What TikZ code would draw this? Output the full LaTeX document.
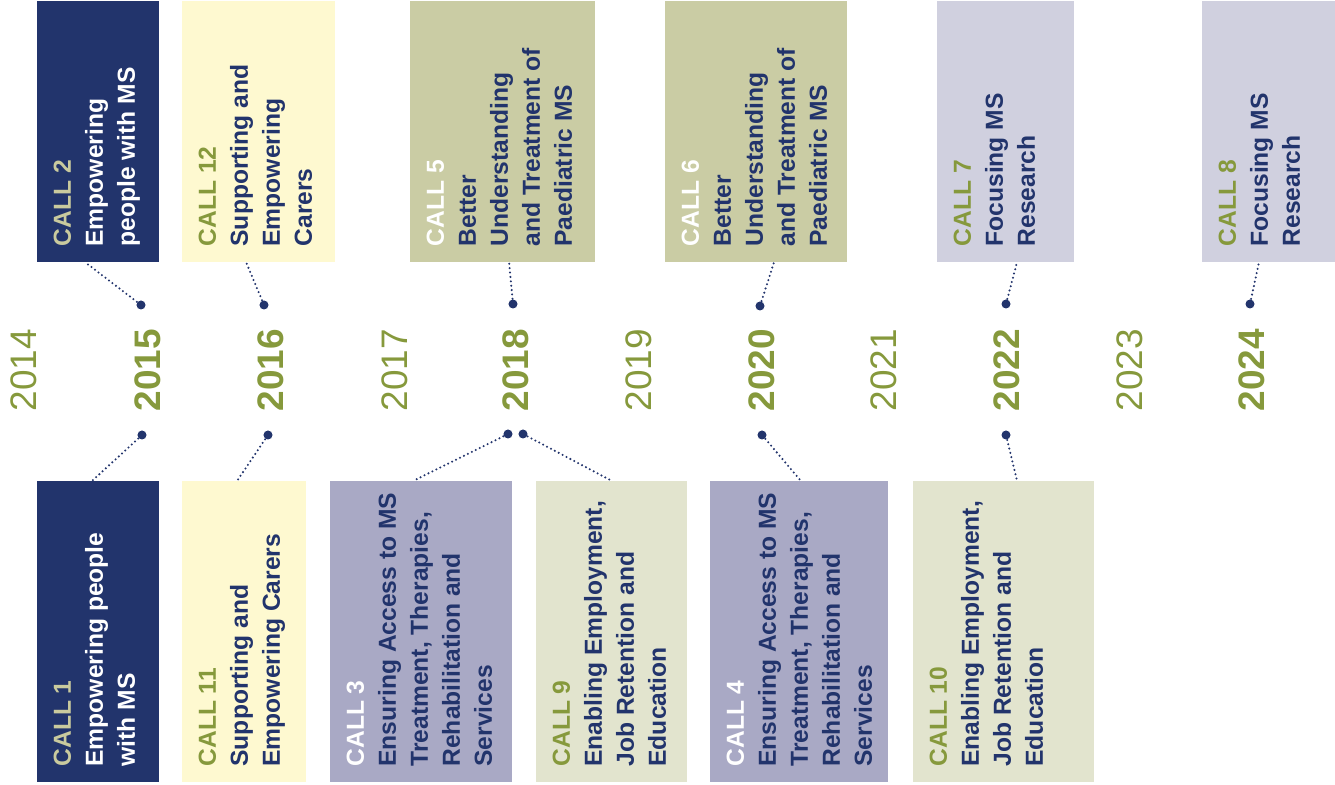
\documentclass[tikz,border=0pt]{standalone}
\usepackage{xcolor}
\usepackage{fontspec}
\setmainfont{Liberation Sans}
\usepackage{tikz}

\definecolor{msnavy}{HTML}{22346C}
\definecolor{mskhaki}{HTML}{C9CA9E}
\definecolor{msgreen}{HTML}{86993C}
\definecolor{msyellow}{HTML}{FEF9D0}
\definecolor{msolive}{HTML}{CACCA4}
\definecolor{mslilac}{HTML}{D0D0DF}
\definecolor{msslate}{HTML}{A9A9C5}
\definecolor{mspale}{HTML}{E2E4CE}

\begin{document}
\begin{tikzpicture}[
  x=0.01cm, y=-0.01cm,
  callbox/.style={rectangle, inner sep=0, outer sep=0, anchor=north west},
  calltext/.style={rotate=90, anchor=north west, inner sep=0, align=left,
    text=msnavy, font=\fontsize{7}{9.1}\selectfont\bfseries},
  yearbold/.style={rotate=90, anchor=base west, inner sep=0, text=msgreen,
    font=\fontsize{10.5}{12}\selectfont\bfseries},
  yearlight/.style={rotate=90, anchor=base west, inner sep=0, text=msgreen,
    font=\fontsize{10.5}{12}\selectfont},
  yeardot/.style={circle, fill=msnavy, inner sep=0, minimum size=0.09cm},
  leader/.style={msnavy, line width=0.65pt, line cap=round,
    dash pattern=on 0pt off 1.25pt}
]
  \useasboundingbox (0,0) rectangle (1335,785);

  % calls above the years
  \node[callbox, fill=msnavy,  minimum width=1.22cm, minimum height=2.61cm] (c2)  at (37,1) {};
  \node[callbox, fill=msyellow, minimum width=1.53cm, minimum height=2.61cm] (c12) at (182,1) {};
  \node[callbox, fill=msolive, minimum width=1.85cm, minimum height=2.61cm] (c5)  at (410,1) {};
  \node[callbox, fill=msolive, minimum width=1.82cm, minimum height=2.61cm] (c6)  at (665,1) {};
  \node[callbox, fill=mslilac, minimum width=1.37cm, minimum height=2.61cm] (c7)  at (937,1) {};
  \node[callbox, fill=mslilac, minimum width=1.33cm, minimum height=2.61cm] (c8)  at (1202,1) {};

  % calls below the years
  \node[callbox, fill=msnavy,  minimum width=1.22cm, minimum height=3.01cm] (c1)  at (37,481) {};
  \node[callbox, fill=msyellow, minimum width=1.24cm, minimum height=3.01cm] (c11) at (182,481) {};
  \node[callbox, fill=msslate, minimum width=1.82cm, minimum height=3.01cm] (c3)  at (330,481) {};
  \node[callbox, fill=mspale,  minimum width=1.51cm, minimum height=3.01cm] (c9)  at (536,481) {};
  \node[callbox, fill=msslate, minimum width=1.78cm, minimum height=3.01cm] (c4)  at (710,481) {};
  \node[callbox, fill=mspale,  minimum width=1.81cm, minimum height=3.01cm] (c10) at (913,481) {};

  % texts
  \node[calltext, text=white] (t2) at ([xshift=0.16cm, yshift=0.15cm]c2.south west)
    {\textcolor{mskhaki}{CALL 2}\\Empowering\\people with MS};
  \node[calltext] (t12) at ([xshift=0.16cm, yshift=0.15cm]c12.south west)
    {\textcolor{msgreen}{CALL 12}\\Supporting and\\Empowering\\Carers};
  \node[calltext] (t5) at ([xshift=0.16cm, yshift=0.15cm]c5.south west)
    {\textcolor{white}{CALL 5}\\Better\\Understanding\\and Treatment of\\Paediatric MS};
  \node[calltext] (t6) at ([xshift=0.16cm, yshift=0.15cm]c6.south west)
    {\textcolor{white}{CALL 6}\\Better\\Understanding\\and Treatment of\\Paediatric MS};
  \node[calltext] (t7) at ([xshift=0.16cm, yshift=0.15cm]c7.south west)
    {\textcolor{msgreen}{CALL 7}\\Focusing MS\\Research};
  \node[calltext] (t8) at ([xshift=0.16cm, yshift=0.15cm]c8.south west)
    {\textcolor{msgreen}{CALL 8}\\Focusing MS\\Research};

  \node[calltext, text=white] (t1) at ([xshift=0.16cm, yshift=0.15cm]c1.south west)
    {\textcolor{mskhaki}{CALL 1}\\Empowering people\\with MS};
  \node[calltext] (t11) at ([xshift=0.16cm, yshift=0.15cm]c11.south west)
    {\textcolor{msgreen}{CALL 11}\\Supporting and\\Empowering Carers};
  \node[calltext] (t3) at ([xshift=0.16cm, yshift=0.15cm]c3.south west)
    {\textcolor{white}{CALL 3}\\Ensuring Access to MS\\Treatment, Therapies,\\Rehabilitation and\\Services};
  \node[calltext] (t9) at ([xshift=0.16cm, yshift=0.15cm]c9.south west)
    {\textcolor{msgreen}{CALL 9}\\Enabling Employment,\\Job Retention and\\Education};
  \node[calltext] (t4) at ([xshift=0.16cm, yshift=0.15cm]c4.south west)
    {\textcolor{white}{CALL 4}\\Ensuring Access to MS\\Treatment, Therapies,\\Rehabilitation and\\Services};
  \node[calltext] (t10) at ([xshift=0.16cm, yshift=0.15cm]c10.south west)
    {\textcolor{msgreen}{CALL 10}\\Enabling Employment,\\Job Retention and\\Education};

  % years
  \node[yearlight] (y14) at (37,412) {2014};
  \node[yearbold]  (y15) at (160,412) {2015};
  \node[yearbold]  (y16) at (283,412) {2016};
  \node[yearlight] (y17) at (407,412) {2017};
  \node[yearbold]  (y18) at (528,412) {2018};
  \node[yearlight] (y19) at (651,412) {2019};
  \node[yearbold]  (y20) at (774,412) {2020};
  \node[yearlight] (y21) at (896,412) {2021};
  \node[yearbold]  (y22) at (1019,412) {2022};
  \node[yearlight] (y23) at (1142,412) {2023};
  \node[yearbold]  (y24) at (1264,412) {2024};

  % dots
  \node[yeardot] (u15) at (141,305) {};
  \node[yeardot] (u16) at (264,305) {};
  \node[yeardot] (u18) at (513,304) {};
  \node[yeardot] (u20) at (760,306) {};
  \node[yeardot] (u22) at (1006,304) {};
  \node[yeardot] (u24) at (1250,304) {};
  \node[yeardot] (d15) at (142,435) {};
  \node[yeardot] (d16) at (268,435) {};
  \node[yeardot] (d18a) at (508,434) {};
  \node[yeardot] (d18b) at (523,434) {};
  \node[yeardot] (d20) at (762,435) {};
  \node[yeardot] (d22) at (1006,435) {};

  % leaders
  \draw[leader] (u15) -- ([xshift=0.48cm]c2.south west);
  \draw[leader] (u16) -- ([xshift=0.64cm]c12.south west);
  \draw[leader] (u18) -- ([xshift=0.99cm]c5.south west);
  \draw[leader] (u20) -- ([xshift=1.09cm]c6.south west);
  \draw[leader] (u22) -- ([xshift=0.80cm]c7.south west);
  \draw[leader] (u24) -- ([xshift=0.57cm]c8.south west);
  \draw[leader] (d15) -- ([xshift=0.55cm]c1.north west);
  \draw[leader] (d16) -- ([xshift=0.55cm]c11.north west);
  \draw[leader] (d18a) -- ([xshift=0.83cm]c3.north west);
  \draw[leader] (d18b) -- ([xshift=0.76cm]c9.north west);
  \draw[leader] (d20) -- ([xshift=0.91cm]c4.north west);
  \draw[leader] (d22) -- ([xshift=1.04cm]c10.north west);
\end{tikzpicture}
\end{document}
